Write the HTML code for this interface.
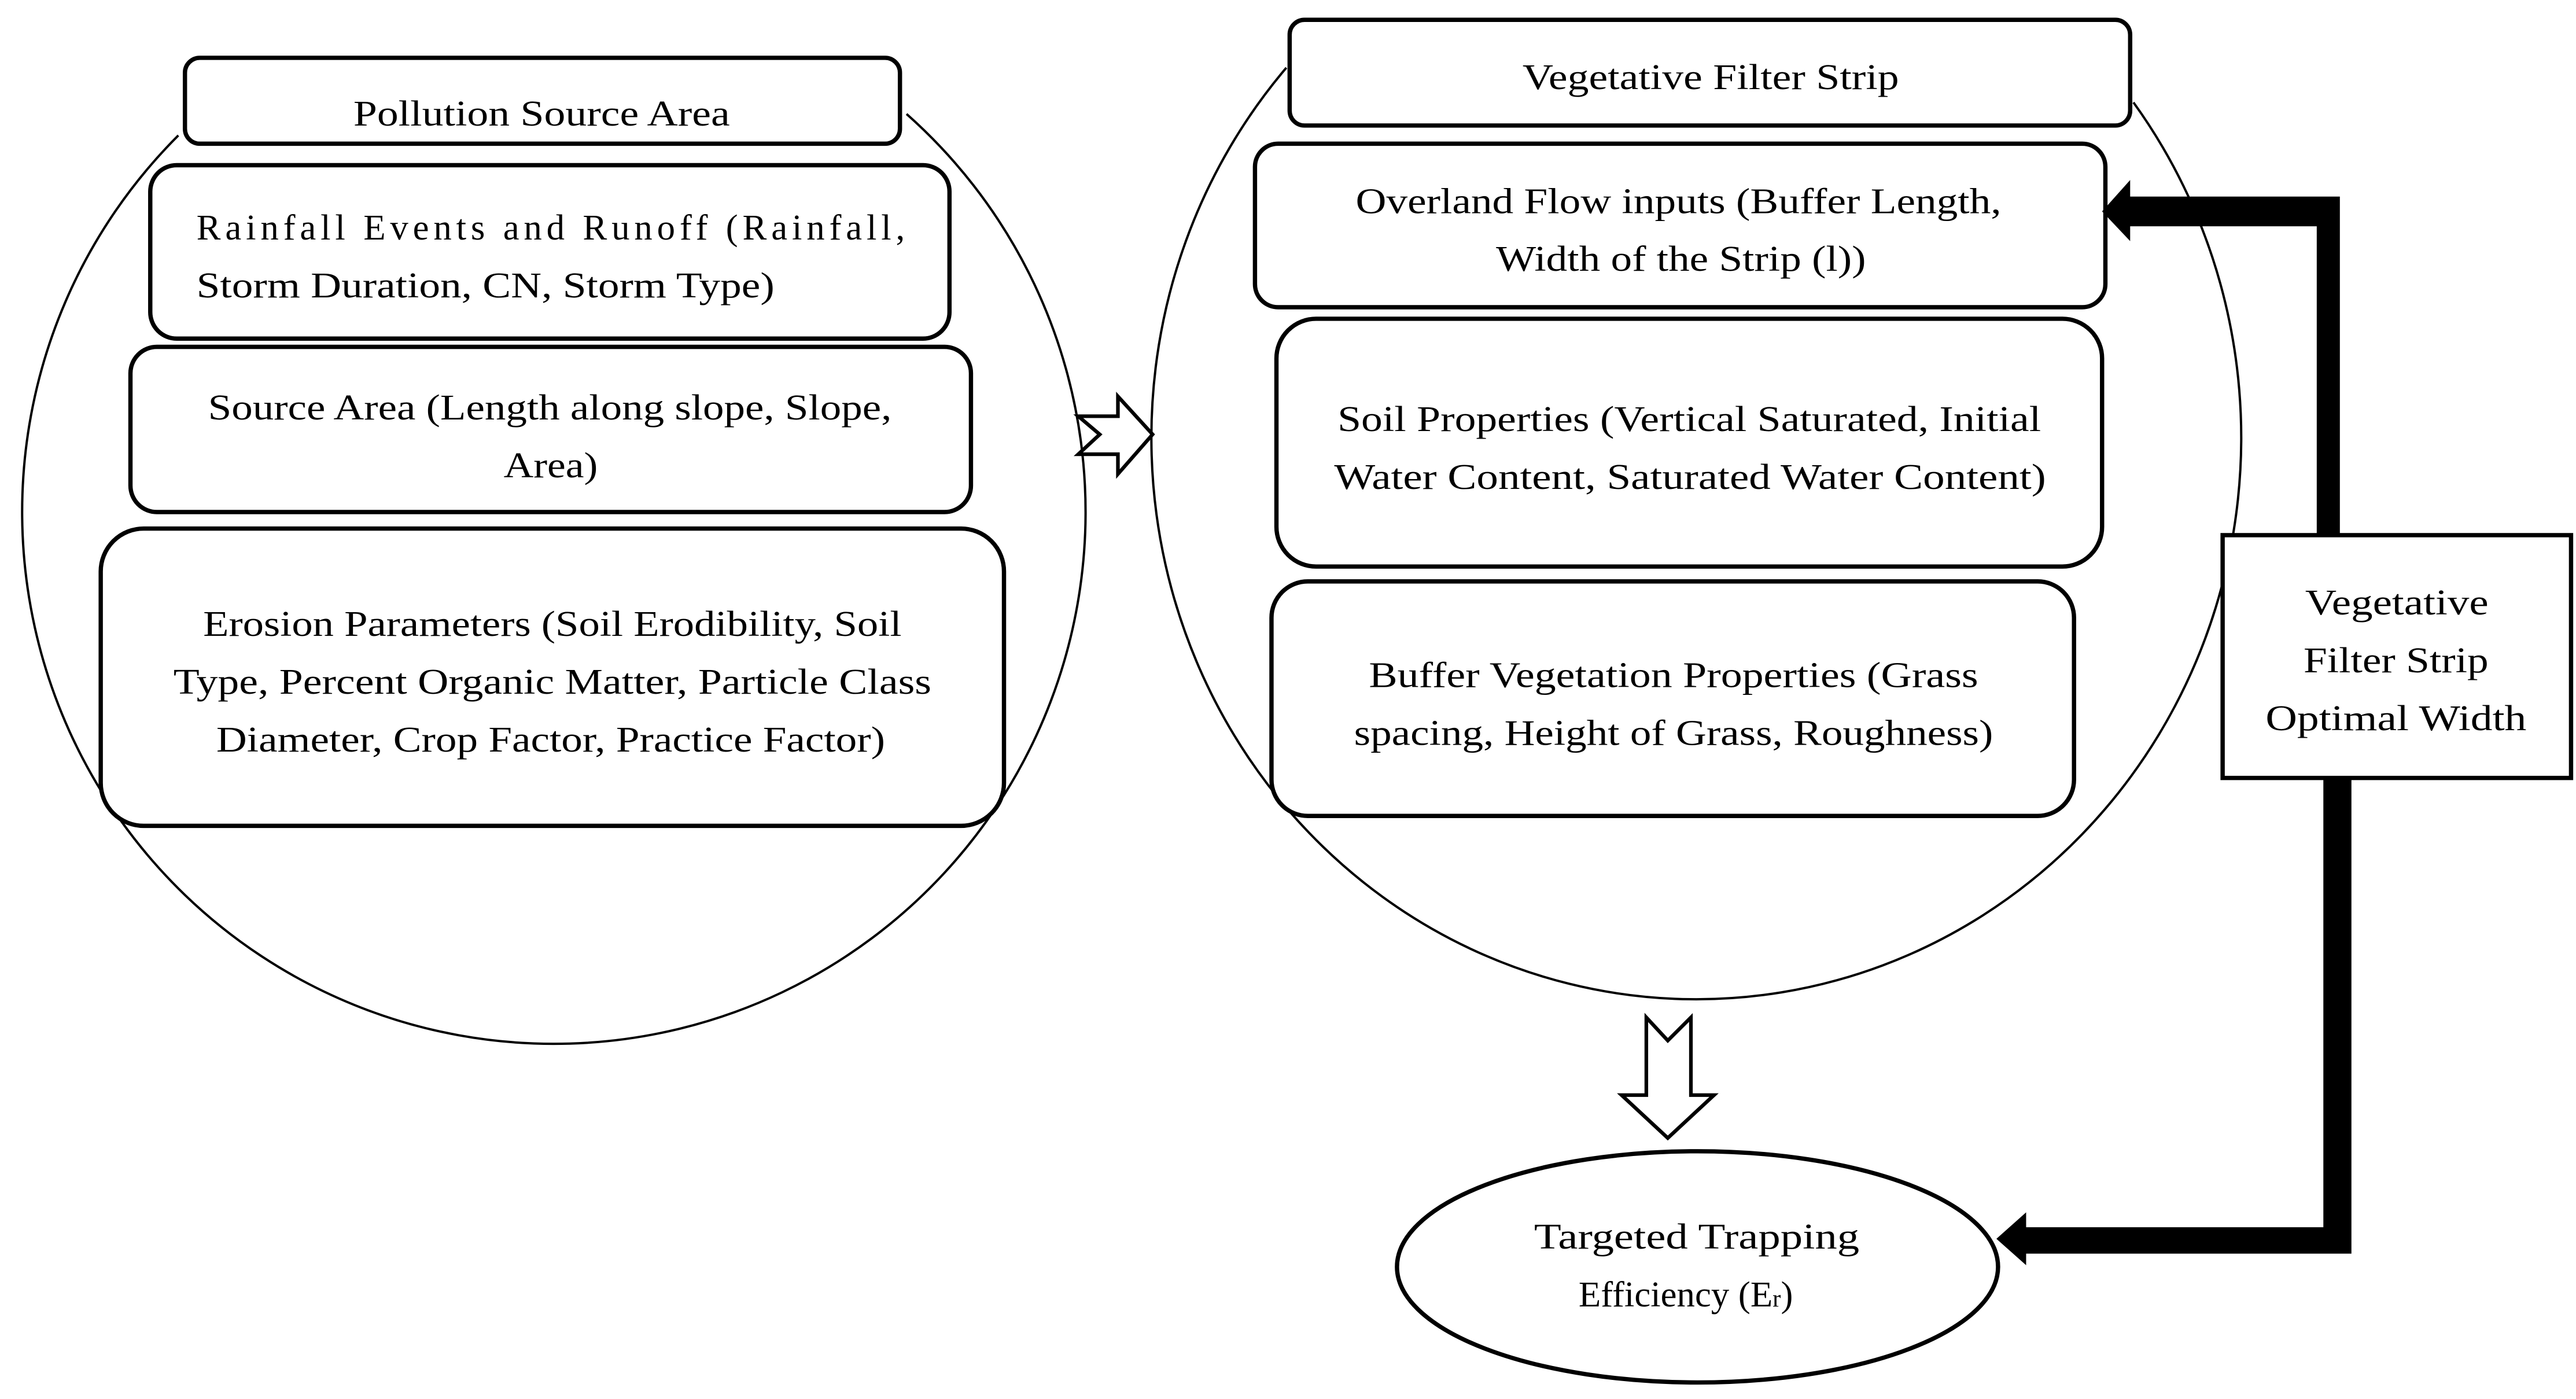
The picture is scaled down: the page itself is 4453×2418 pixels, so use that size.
<!DOCTYPE html>
<html><head><meta charset="utf-8"><style>
html,body{margin:0;padding:0;background:#fff;}
svg{display:block;}
text{font-family:"Liberation Serif",serif;font-size:22px;fill:#000;}
</style></head><body>
<svg width="4453" height="2418" viewBox="0 0 1560 847" preserveAspectRatio="none" xmlns="http://www.w3.org/2000/svg">
<rect width="1560" height="847" fill="#fff"/>
<!-- circle arcs -->
<path d="M 108,82 A 322 322 0 1 0 549,69" fill="none" stroke="#000" stroke-width="1.4"/>
<path d="M 779,41 A 330 340 0 1 0 1292,62" fill="none" stroke="#000" stroke-width="1.4"/>

<g fill="#fff" stroke="#000" stroke-width="2.6">
<rect x="112" y="35" width="433" height="52" rx="9"/>
<rect x="91" y="100" width="484" height="105" rx="16"/>
<rect x="79" y="210" width="509" height="100" rx="16"/>
<rect x="61" y="320" width="547" height="180" rx="26"/>
<rect x="781" y="12" width="509" height="64" rx="9"/>
<rect x="760" y="87" width="515" height="99" rx="14"/>
<rect x="773" y="193" width="500" height="150" rx="24"/>
<rect x="770" y="352" width="486" height="142" rx="22"/>
<rect x="1346" y="324" width="211" height="147" rx="0"/>
<ellipse cx="1028" cy="767" rx="182" ry="70"/>
</g>

<!-- hollow arrows -->
<polygon points="653,252 677,252 677,240 698,263 677,287 677,275 653,275 666,263" fill="#fff" stroke="#000" stroke-width="2.2"/>
<polygon points="997,616 1010,630 1024,616 1024,663 1038,663 1010,689 982,663 997,663" fill="#fff" stroke="#000" stroke-width="2.2"/>

<!-- thick arrows -->
<polygon points="1403,324 1417,324 1417,119 1290,119 1290,109 1273,128 1290,146 1290,137 1403,137" fill="#000"/>
<polygon points="1407,471 1424,471 1424,759 1227,759 1227,766 1209,750 1227,734 1227,743 1407,743" fill="#000"/>

<!-- text -->
<text x="214" y="76" textLength="228" lengthAdjust="spacingAndGlyphs">Pollution Source Area</text>

<text x="119" y="145" textLength="429" lengthAdjust="spacing">Rainfall Events and Runoff (Rainfall,</text>
<text x="119" y="180" textLength="350" lengthAdjust="spacingAndGlyphs">Storm Duration, CN, Storm Type)</text>

<text x="126" y="254" textLength="414" lengthAdjust="spacingAndGlyphs">Source Area (Length along slope, Slope,</text>
<text x="305" y="289" textLength="57" lengthAdjust="spacingAndGlyphs">Area)</text>

<text x="123" y="385" textLength="423" lengthAdjust="spacingAndGlyphs">Erosion Parameters (Soil Erodibility, Soil</text>
<text x="105" y="420" textLength="459" lengthAdjust="spacingAndGlyphs">Type, Percent Organic Matter, Particle Class</text>
<text x="131" y="455" textLength="405" lengthAdjust="spacingAndGlyphs">Diameter, Crop Factor, Practice Factor)</text>

<text x="922" y="54" textLength="228" lengthAdjust="spacingAndGlyphs">Vegetative Filter Strip</text>

<text x="821" y="129" textLength="391" lengthAdjust="spacingAndGlyphs">Overland Flow inputs (Buffer Length,</text>
<text x="906" y="164" textLength="224" lengthAdjust="spacingAndGlyphs">Width of the Strip (l))</text>

<text x="810" y="261" textLength="426" lengthAdjust="spacingAndGlyphs">Soil Properties (Vertical Saturated, Initial</text>
<text x="808" y="296" textLength="431" lengthAdjust="spacingAndGlyphs">Water Content, Saturated Water Content)</text>

<text x="829" y="416" textLength="369" lengthAdjust="spacingAndGlyphs">Buffer Vegetation Properties (Grass</text>
<text x="820" y="451" textLength="387" lengthAdjust="spacingAndGlyphs">spacing, Height of Grass, Roughness)</text>

<text x="1396" y="372" textLength="111" lengthAdjust="spacingAndGlyphs">Vegetative</text>
<text x="1395" y="407" textLength="112" lengthAdjust="spacingAndGlyphs">Filter Strip</text>
<text x="1372" y="442" textLength="158" lengthAdjust="spacingAndGlyphs">Optimal Width</text>

<text x="929" y="756" textLength="197" lengthAdjust="spacingAndGlyphs">Targeted Trapping</text>
<text x="956" y="791" font-size="23">Efficiency (E<tspan font-size="15">r</tspan>)</text>
</svg>
</body></html>
